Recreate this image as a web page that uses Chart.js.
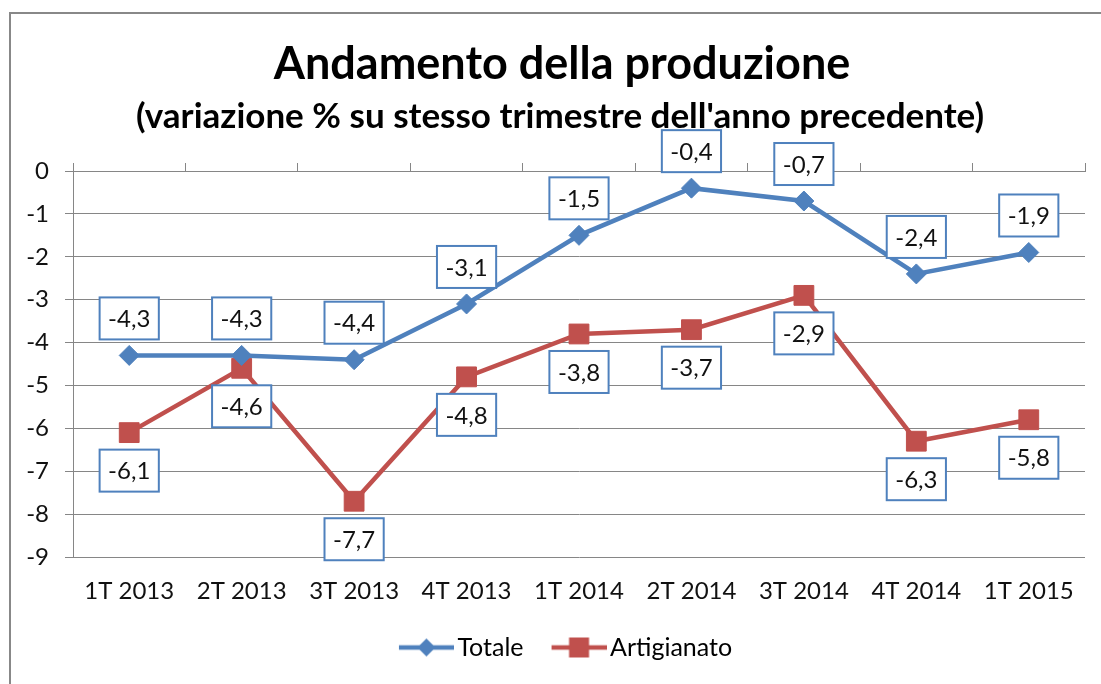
<!DOCTYPE html>
<html>
<head>
<meta charset="utf-8">
<script src="https://cdn.jsdelivr.net/npm/chart.js@4/dist/chart.umd.min.js"></script>
<style>
  html, body { margin: 0; padding: 0; background: #fff; }
  #wrap { position: relative; width: 1101px; height: 684px; overflow: hidden; }
  #frame { position: absolute; left: 9px; top: 12px; width: 1200px; height: 800px;
           border-left: 2px solid #888; border-top: 2px solid #888; pointer-events: none; }
  canvas { position: absolute; left: 0; top: 0; }
</style>
</head>
<body>
<div id="wrap">
  <canvas id="myChart" width="1135" height="684"></canvas>
  <div id="frame"></div>
</div>
<script>
// dati
const categories = ['1T 2013', '2T 2013', '3T 2013', '4T 2013', '1T 2014', '2T 2014', '3T 2014', '4T 2014', '1T 2015'];
const totale = [-4.3, -4.3, -4.4, -3.1, -1.5, -0.4, -0.7, -2.4, -1.9];
const artigianato = [-6.1, -4.6, -7.7, -4.8, -3.8, -3.7, -2.9, -6.3, -5.8];
const yTicks = [0, -1, -2, -3, -4, -5, -6, -7, -8, -9];
const titolo = 'Andamento della produzione';
const sottotitolo = "(variazione % su stesso trimestre dell'anno precedente)";

const BLUE = '#4F81BD', RED = '#C0504D';
const FONT = 'Lato, "Open Sans", sans-serif';

// icona legenda: linea + marcatore (spostata a destra nel riquadro)
function legendIcon(color, style) {
    const c = document.createElement('canvas');
    c.width = 60; c.height = 24;
    const g = c.getContext('2d');
    g.strokeStyle = color; g.lineWidth = 4.5;
    g.beginPath(); g.moveTo(5, 12); g.lineTo(60, 12); g.stroke();
    g.fillStyle = color;
    g.beginPath();
    if (style === 'diamond') {
        g.moveTo(32.5, 3); g.lineTo(41.5, 12); g.lineTo(32.5, 21); g.lineTo(23.5, 12); g.closePath();
    } else {
        g.rect(22.5, 2, 20, 20);
    }
    g.fill();
    return c;
}

// titolo e sottotitolo (centrati come nell'originale)
const titles = {
    id: 'titles',
    afterDraw(chart) {
        const ctx = chart.ctx;
        ctx.save();
        ctx.fillStyle = '#000';
        ctx.textAlign = 'center'; ctx.textBaseline = 'alphabetic';
        ctx.font = 'bold 45px ' + FONT;
        ctx.fillText(titolo, 562, 79);
        ctx.font = 'bold 35px ' + FONT;
        ctx.fillText(sottotitolo, 560, 128);
        ctx.restore();
    }
};

// etichette con riquadro blu
const boxLabels = {
    id: 'boxLabels',
    afterDatasetsDraw(chart) {
        const ctx = chart.ctx;
        ctx.save();
        ctx.font = '24px ' + FONT;
        chart.data.datasets.forEach((ds, i) => {
            const meta = chart.getDatasetMeta(i);
            meta.data.forEach((pt, j) => {
                const txt = ds.data[j].toFixed(1).replace('.', ',');
                const w = ctx.measureText(txt).width + 17, h = 42;
                const x = pt.x - w / 2;
                const y = ds.labelAbove ? pt.y - 16 - h : pt.y + 17;
                ctx.fillStyle = '#fff';
                ctx.fillRect(x, y, w, h);
                ctx.strokeStyle = BLUE; ctx.lineWidth = 2;
                ctx.strokeRect(x, y, w, h);
                ctx.fillStyle = '#111';
                ctx.textAlign = 'center'; ctx.textBaseline = 'middle';
                ctx.fillText(txt, pt.x, y + h / 2 + 1);
            });
        });
        ctx.restore();
    }
};

const icons = [legendIcon(BLUE, 'diamond'), legendIcon(RED, 'square')];

new Chart(document.getElementById('myChart'), {
    type: 'line',
    data: {
        labels: categories,
        datasets: [
            { label: 'Totale', data: totale, borderColor: BLUE, backgroundColor: BLUE, borderWidth: 4.5,
              pointStyle: 'rectRot', pointRadius: 10, pointBorderWidth: 1, tension: 0, labelAbove: true },
            { label: 'Artigianato', data: artigianato, borderColor: RED, backgroundColor: RED, borderWidth: 4.5,
              pointStyle: 'rect', pointRadius: 14, pointBorderWidth: 1, tension: 0, labelAbove: false }
        ]
    },
    options: {
        responsive: false,
        animation: false,
        layout: { padding: { top: 163, right: 0, bottom: 14, left: 0 } },
        plugins: {
            title: { display: false },
            legend: {
                position: 'bottom',
                labels: {
                    usePointStyle: true, pointStyleWidth: 42, padding: 32, color: '#111',
                    font: { family: FONT, size: 25 },
                    generateLabels: (chart) => chart.data.datasets.map((ds, i) => ({
                        text: ds.label, pointStyle: icons[i], fillStyle: ds.borderColor,
                        strokeStyle: ds.borderColor, lineWidth: 0, datasetIndex: i, hidden: false
                    }))
                }
            },
            tooltip: { enabled: false }
        },
        scales: {
            x: {
                position: 'bottom',
                offset: true,
                grid: { display: false, drawTicks: false },
                border: { display: false },
                ticks: { color: '#111', font: { family: FONT, size: 24 }, padding: 20, maxRotation: 0 },
                afterFit: (s) => { s.height = 46; }
            },
            x2: {
                type: 'category',
                labels: categories,
                position: 'top',
                offset: true,
                grid: { offset: true, drawOnChartArea: false, tickLength: 8, color: '#868686' },
                border: { display: true, color: '#868686' },
                ticks: { display: false }
            },
            y: {
                min: -9, max: 0,
                afterBuildTicks: (s) => { s.ticks = yTicks.map(v => ({ value: v })); },
                afterFit: (s) => { s.width = 73; },
                grid: { color: '#868686', tickLength: 8 },
                border: { display: true, color: '#868686' },
                ticks: { color: '#111', font: { family: FONT, size: 24 }, padding: 16,
                         callback: (v) => String(v) }
            },
            // asse vuoto a destra: solo spazio, per centrare la legenda come nell'originale
            yRight: {
                position: 'right',
                min: -9, max: 0,
                grid: { display: false },
                border: { display: false },
                ticks: { display: false },
                afterFit: (s) => { s.width = 50; }
            }
        }
    },
    plugins: [boxLabels, titles]
});
</script>
</body>
</html>
